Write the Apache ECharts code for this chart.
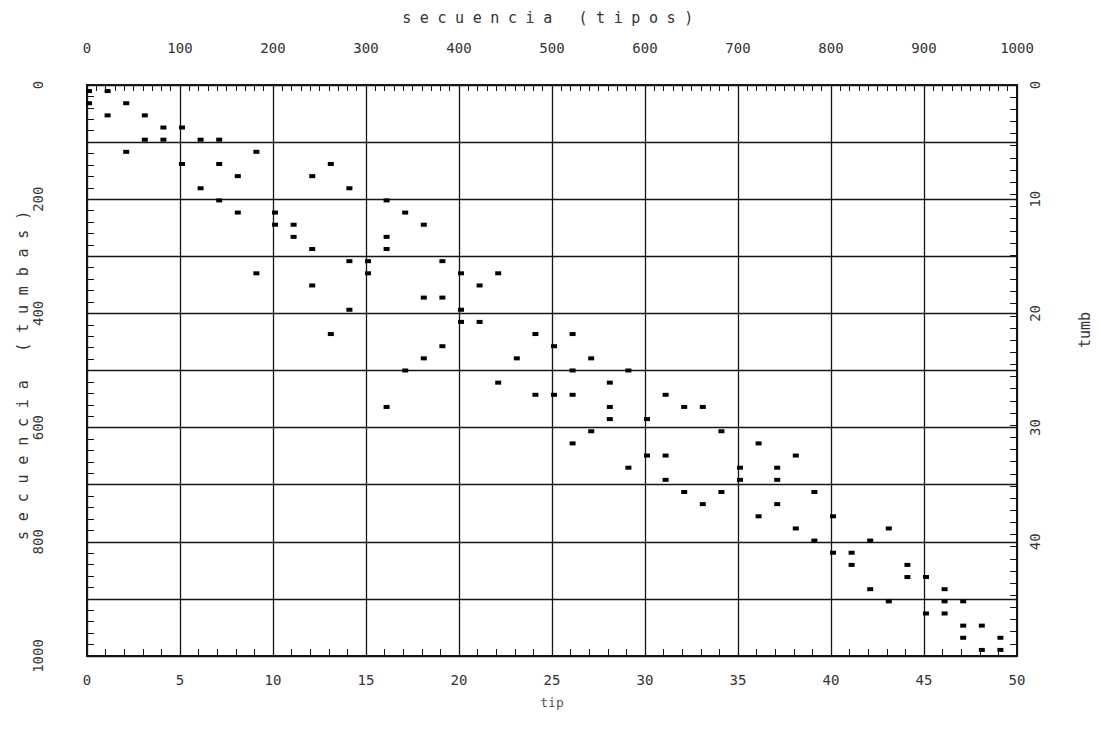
<!DOCTYPE html>
<html>
<head>
<meta charset="utf-8">
<script src="https://cdn.jsdelivr.net/npm/echarts@6/dist/echarts.min.js"></script>
<style>
html,body{margin:0;padding:0;background:#ffffff;}
#chart{width:1101px;height:735px;}
</style>
</head>
<body>
<div id="chart"></div>
<script>
// ---- data ----
// For each tipo (0..49): the tumb ranks (1..47, counted from the top) where it occurs
const tumbsByTip = [
  [1, 2], [1, 3], [2, 6], [3, 5], [4, 5], [4, 7], [5, 9], [5, 7, 10], [8, 11], [6, 16],
  [11, 12], [12, 13], [8, 14, 17], [7, 21], [9, 15, 19], [15, 16], [10, 13, 14, 27], [11, 24], [12, 18, 23], [15, 18, 22],
  [16, 19, 20], [17, 20], [16, 25], [23], [21, 26], [22, 26], [21, 24, 26, 30], [23, 29], [25, 27, 28], [24, 32],
  [28, 31], [26, 31, 33], [27, 34], [27, 35], [29, 34], [32, 33], [30, 36], [32, 33, 35], [31, 37], [34, 38],
  [36, 39], [39, 40], [38, 42], [37, 43], [40, 41], [41, 44], [42, 43, 44], [43, 45, 46], [45, 47], [46, 47]
];
const tumbCount = 47;
const tipLabels = [0, 5, 10, 15, 20, 25, 30, 35, 40, 45, 50];
const tiposLabels = [0, 100, 200, 300, 400, 500, 600, 700, 800, 900, 1000];
const tumbasLabels = [0, 200, 400, 600, 800, 1000];
const tumbLabels = [0, 10, 20, 30, 40];

// ---- build the scatter data ----
const points = [];
tumbsByTip.forEach(function (ranks, tip) {
  ranks.forEach(function (r) { points.push([tip, r - 0.5]); });
});

const INK = '#151515';
const TXT = '#333333';
const FONT = 'DejaVu Sans Mono';
const TITLE_TOP = 'secuencia (tipos)';
const TITLE_LEFT = 'secuencia (tumbas)';

const chart = echarts.init(document.getElementById('chart'), null, {renderer: 'svg'});
chart.setOption({
  backgroundColor: '#ffffff',
  animation: false,
  textStyle: {fontFamily: FONT, color: TXT},
  grid: {left: 87, right: 84, top: 85, bottom: 79, containLabel: false},
  xAxis: [
    {
      type: 'value', position: 'bottom', min: 0, max: 50, interval: 5,
      name: 'tip', nameLocation: 'middle', nameGap: 40,
      nameTextStyle: {fontFamily: FONT, fontSize: 13, color: '#555'},
      axisLine: {show: true, onZero: false, lineStyle: {color: INK, width: 2}},
      axisTick: {show: true, inside: true, length: 7, lineStyle: {color: INK, width: 1}},
      minorTick: {show: true, splitNumber: 5, length: 7, lineStyle: {color: INK, width: 1}},
      splitLine: {show: true, lineStyle: {color: INK, width: 1.3}},
      axisLabel: {margin: 17, fontSize: 14, color: TXT, fontFamily: FONT,
        formatter: function (v) { return tipLabels.indexOf(v) >= 0 ? String(v) : ''; }}
    },
    {
      type: 'value', position: 'top', min: 0, max: 1000, interval: 100,
      name: TITLE_TOP, nameLocation: 'middle', nameGap: 60,
      nameTextStyle: {fontFamily: FONT, fontSize: 15, color: TXT},
      axisLine: {show: true, onZero: false, lineStyle: {color: INK, width: 2}},
      axisTick: {show: true, inside: true, length: 6, lineStyle: {color: INK, width: 1}},
      minorTick: {show: true, splitNumber: 10, length: 6, lineStyle: {color: INK, width: 1}},
      splitLine: {show: false},
      axisLabel: {margin: 30, fontSize: 14, color: TXT, fontFamily: FONT,
        formatter: function (v) { return tiposLabels.indexOf(v) >= 0 ? String(v) : ''; }}
    }
  ],
  yAxis: [
    {
      type: 'value', position: 'left', inverse: true, min: 0, max: 1000, interval: 100,
      name: TITLE_LEFT, nameLocation: 'middle', nameGap: 57, nameRotate: 90,
      nameMoveOverlap: false,
      nameTextStyle: {fontFamily: FONT, fontSize: 15, color: TXT},
      axisLine: {show: true, onZero: false, lineStyle: {color: INK, width: 2}},
      axisTick: {show: true, inside: true, length: 7, lineStyle: {color: INK, width: 1}},
      minorTick: {show: true, splitNumber: 5, length: 7, lineStyle: {color: INK, width: 1}},
      splitLine: {show: true, lineStyle: {color: INK, width: 1.3}},
      axisLabel: {margin: 42, fontSize: 14, rotate: 90, color: TXT, fontFamily: FONT,
        formatter: function (v) { return tumbasLabels.indexOf(v) >= 0 ? String(v) : ''; }}
    },
    {
      type: 'value', position: 'right', inverse: true, min: 0, max: tumbCount, interval: 1,
      axisLine: {show: true, onZero: false, lineStyle: {color: INK, width: 2}},
      axisTick: {show: true, inside: true, length: 7, lineStyle: {color: INK, width: 1}},
      splitLine: {show: false},
      axisLabel: {show: false}
    },
    {
      type: 'value', position: 'right', inverse: true, min: 0, max: 50, interval: 10,
      axisLine: {show: false},
      axisTick: {show: false},
      splitLine: {show: false},
      axisLabel: {margin: 11, fontSize: 14, rotate: 90, color: TXT, fontFamily: FONT,
        formatter: function (v) { return tumbLabels.indexOf(v) >= 0 ? String(v) : ''; }}
    }
  ],
  graphic: [
    {
      type: 'text', x: 1085, y: 330, rotation: Math.PI / 2,
      style: {text: 'tumb', fontFamily: FONT, fontSize: 15, fill: TXT, align: 'center', verticalAlign: 'middle'}
    }
  ],
  series: [
    {
      type: 'scatter', xAxisIndex: 0, yAxisIndex: 1,
      data: points,
      symbol: 'rect', symbolSize: [6, 4], symbolOffset: [2, 0],
      itemStyle: {color: '#000000', opacity: 1},
      silent: true, z: 5
    }
  ]
});

// the plotter titles are widely letter-spaced
function spaceTitles() {
  const texts = document.querySelectorAll('#chart svg text');
  texts.forEach(function (t) {
    const s = t.textContent;
    if (s === TITLE_TOP) { t.style.letterSpacing = '8.6px'; }
    else if (s === TITLE_LEFT) { t.style.letterSpacing = '9.8px'; }
  });
}
spaceTitles();
chart.on('finished', spaceTitles);
</script>
</body>
</html>
